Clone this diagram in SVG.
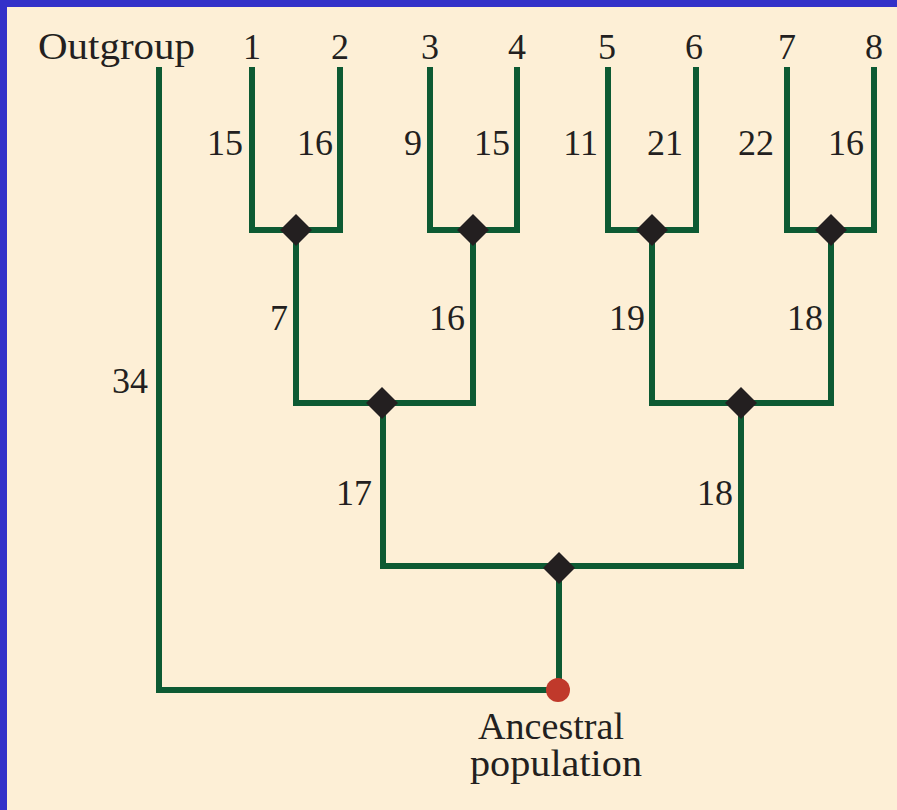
<svg xmlns="http://www.w3.org/2000/svg" width="897" height="810" viewBox="0 0 897 810">
<style>
.t{font-family:"Liberation Serif","DejaVu Serif",serif;font-size:36px;fill:#231f20}
.w{font-size:38px}
.e{text-anchor:end}
.m{text-anchor:middle}
.br{fill:none;stroke:#0d5a33;stroke-width:6;stroke-linecap:butt;stroke-linejoin:miter}
.dm{fill:#231f20}
</style>
<defs>
<path id="dia" d="M0,-16 L16,0 L0,16 L-16,0 Z"/>
</defs>
<rect x="0" y="0" width="897" height="810" fill="#3331c9"/>
<rect x="7" y="7" width="890" height="803" fill="#fdefd6"/>
<g id="connectors">
<path class="br" d="M159,67 V690 H558"/>
<path class="br" d="M252,67 V230 H340 V67"/>
<path class="br" d="M430,67 V230 H517 V67"/>
<path class="br" d="M608,67 V230 H696 V67"/>
<path class="br" d="M787,67 V230 H874 V67"/>
<path class="br" d="M296,230 V403 H473 V230"/>
<path class="br" d="M652,230 V403 H831 V230"/>
<path class="br" d="M383,403 V566 H741 V403"/>
<path class="br" d="M559,566 V690"/>
</g>
<g id="n12"><use href="#dia" class="dm" x="296" y="230"/></g>
<g id="n34"><use href="#dia" class="dm" x="473" y="230"/></g>
<g id="n56"><use href="#dia" class="dm" x="652" y="230"/></g>
<g id="n78"><use href="#dia" class="dm" x="831" y="230"/></g>
<g id="n1234"><use href="#dia" class="dm" x="382" y="403"/></g>
<g id="n5678"><use href="#dia" class="dm" x="741" y="403"/></g>
<g id="nall"><use href="#dia" class="dm" x="559" y="568"/></g>
<g id="ancestor"><circle cx="558" cy="690" r="12" fill="#c0392b"/>
<text class="t w" x="478" y="739" textLength="146" lengthAdjust="spacingAndGlyphs">Ancestral</text>
<text class="t w" x="470" y="776" textLength="172" lengthAdjust="spacingAndGlyphs">population</text></g>
<g id="leaves">
<text class="t w" x="38" y="59" textLength="157" lengthAdjust="spacingAndGlyphs">Outgroup</text>
<text class="t m" x="252" y="59">1</text>
<text class="t m" x="340" y="59">2</text>
<text class="t m" x="430" y="59">3</text>
<text class="t m" x="517" y="59">4</text>
<text class="t m" x="607" y="59">5</text>
<text class="t m" x="694" y="59">6</text>
<text class="t m" x="787" y="59">7</text>
<text class="t m" x="874" y="59">8</text>
</g>
<g id="branch-labels">
<text class="t e" x="243" y="155">15</text>
<text class="t e" x="333" y="155">16</text>
<text class="t e" x="422" y="155">9</text>
<text class="t e" x="510" y="155">15</text>
<text class="t e" x="598" y="155">11</text>
<text class="t e" x="683" y="155">21</text>
<text class="t e" x="774" y="155">22</text>
<text class="t e" x="864" y="155">16</text>
<text class="t e" x="288" y="330">7</text>
<text class="t e" x="465" y="330">16</text>
<text class="t e" x="645" y="330">19</text>
<text class="t e" x="823" y="330">18</text>
<text class="t e" x="148" y="393">34</text>
<text class="t e" x="372" y="505">17</text>
<text class="t e" x="733" y="505">18</text>
</g>
</svg>
